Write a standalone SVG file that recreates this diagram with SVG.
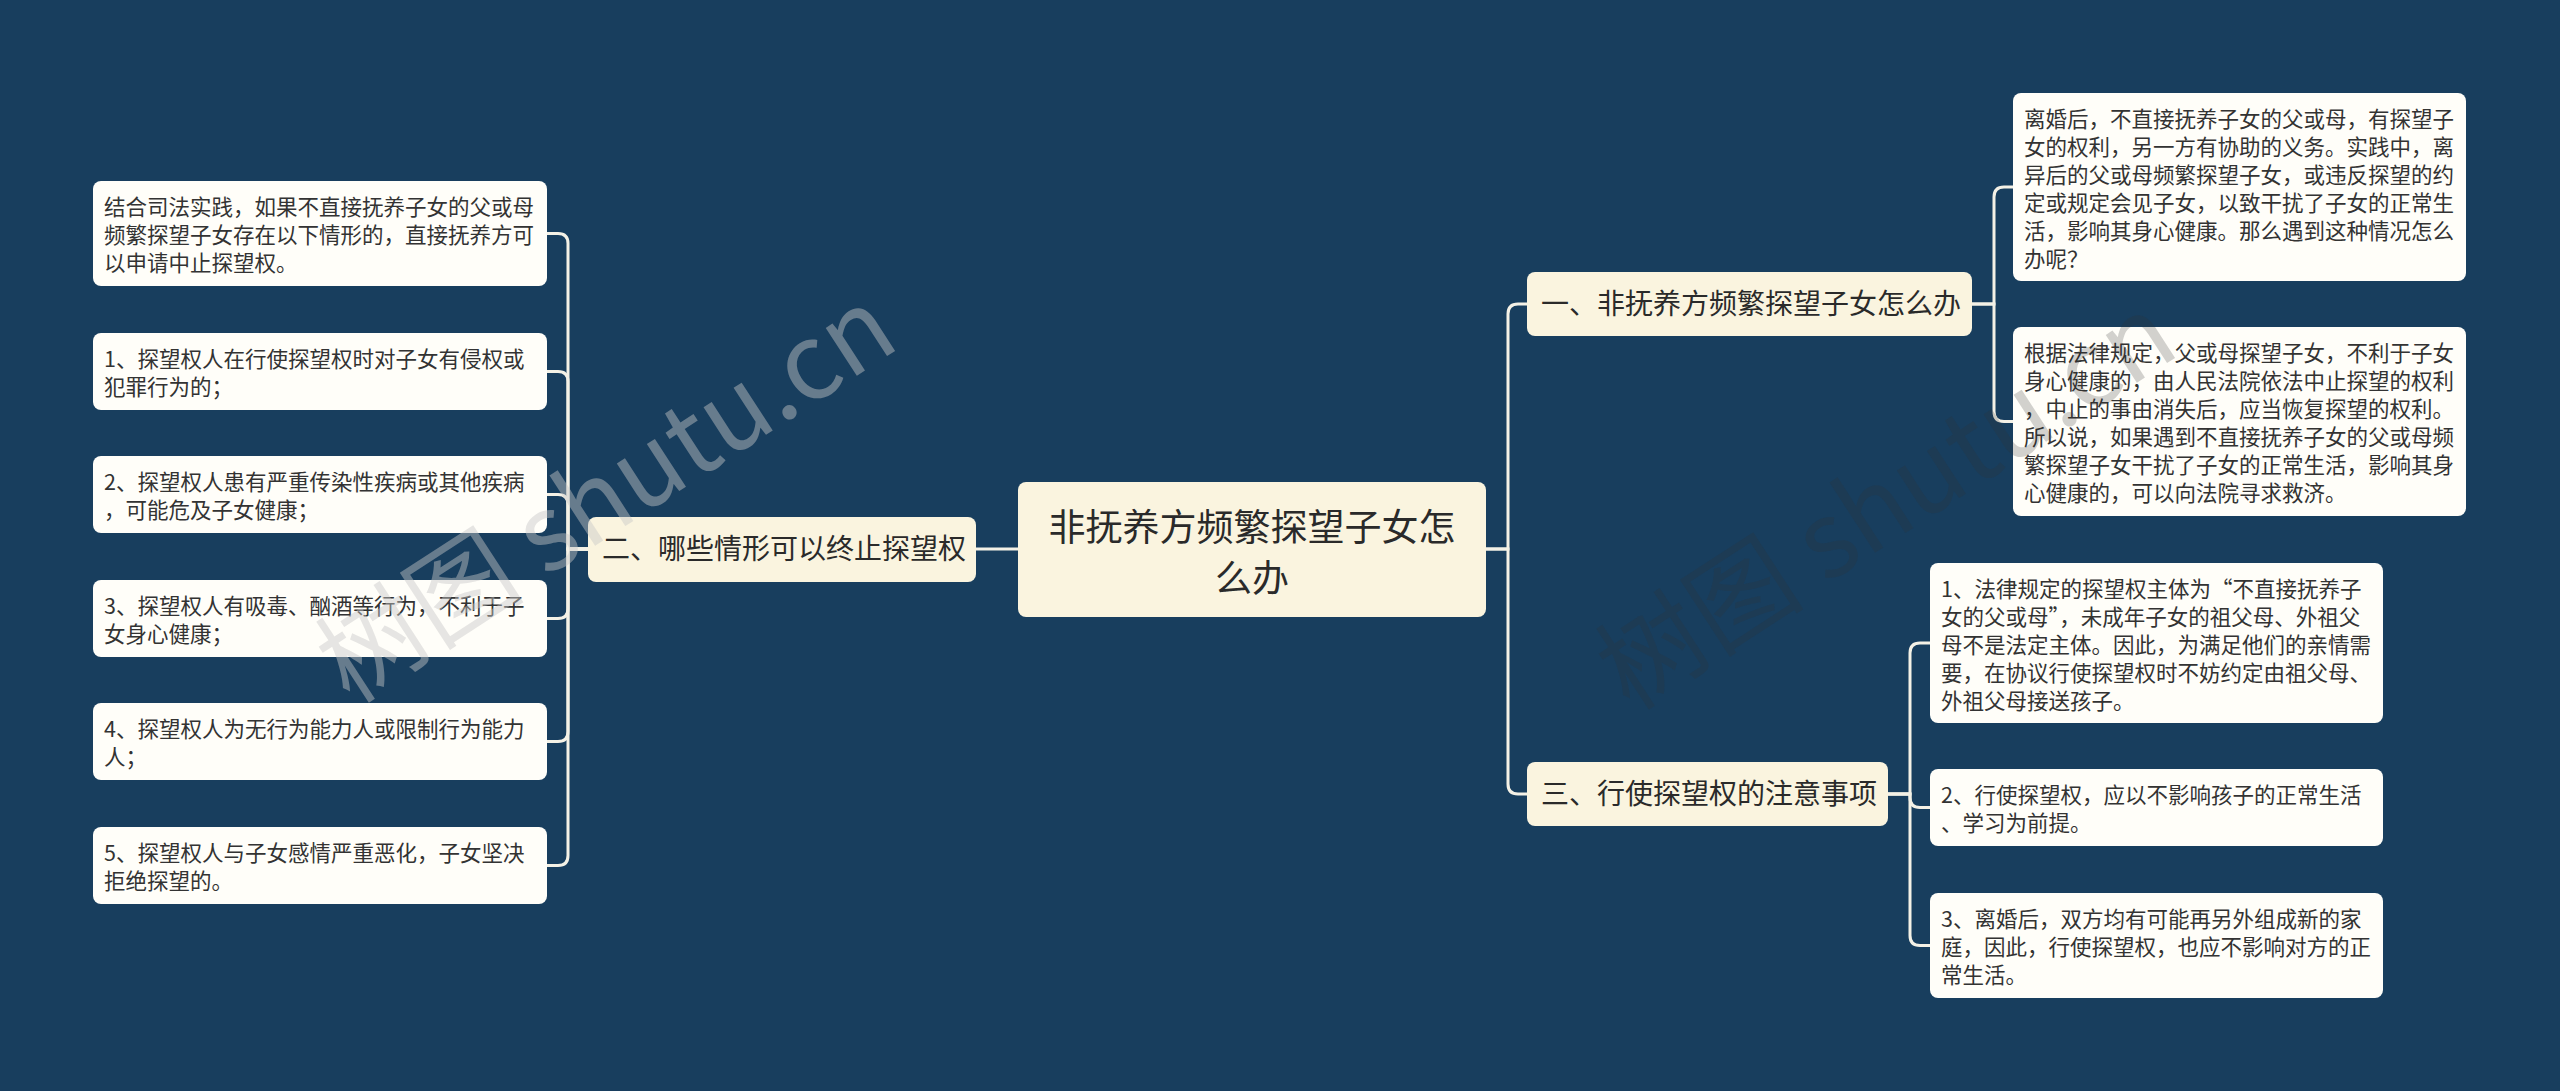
<svg xmlns="http://www.w3.org/2000/svg" width="2560" height="1091" viewBox="0 0 2560 1091">
<style>
.bg{fill:#183e5e}
.leaf{fill:#fffef9}
.mid{fill:#faf4df}
.root{fill:#faf4df}
.lt{font-family:"Noto Sans CJK SC","Noto Sans",sans-serif;font-size:21.5px;fill:#333333}
.mt{font-family:"Noto Sans CJK SC","Noto Sans",sans-serif;font-size:28px;fill:#2a2a2a}
.rt{font-family:"Noto Sans CJK SC","Noto Sans",sans-serif;font-size:37px;fill:#2a2a2a}
.conn path{fill:none;stroke:#f4f1e6;stroke-width:3}
.wm{font-family:"Noto Sans CJK SC","Noto Sans",sans-serif;font-size:105px;font-weight:normal}
</style>
<rect class="bg" x="0" y="0" width="2560" height="1091"/>

<g id="connectors" class="conn">
  <path d="M1018 549 H976"/>
  <path d="M1486 549 H1508 V314 Q1508 304 1518 304 H1527"/>
  <path d="M1486 549 H1508 V784 Q1508 794 1518 794 H1527"/>
  <path d="M588 549 H568 V243.5 Q568 233.5 558 233.5 H547"/>
  <path d="M588 549 H568 V381.5 Q568 371.5 558 371.5 H547"/>
  <path d="M588 549 H568 V504.5 Q568 494.5 558 494.5 H547"/>
  <path d="M588 549 H568 V608.5 Q568 618.5 558 618.5 H547"/>
  <path d="M588 549 H568 V731.5 Q568 741.5 558 741.5 H547"/>
  <path d="M588 549 H568 V855.5 Q568 865.5 558 865.5 H547"/>
  <path d="M1972 304 H1994 V197 Q1994 187 2004 187 H2013"/>
  <path d="M1972 304 H1994 V411.5 Q1994 421.5 2004 421.5 H2013"/>
  <path d="M1888 794 H1910 V653 Q1910 643 1920 643 H1930"/>
  <path d="M1888 794 H1910 V797.5 Q1910 807.5 1920 807.5 H1930"/>
  <path d="M1888 794 H1910 V935.5 Q1910 945.5 1920 945.5 H1930"/>
</g>

<g id="root">
  <rect class="root" x="1018" y="482" width="468" height="135" rx="8"/>
  <text class="rt" x="1252" y="541" text-anchor="middle">非抚养方频繁探望子女怎</text>
  <text class="rt" x="1252" y="592" text-anchor="middle">么办</text>
</g>

<g id="n2">
  <rect class="mid" x="588" y="517" width="388" height="65" rx="8"/>
  <text class="mt" x="602" y="559">二、哪些情形可以终止探望权</text>
</g>
<g id="n1">
  <rect class="mid" x="1527" y="272" width="445" height="64" rx="8"/>
  <text class="mt" x="1541" y="314">一、非抚养方频繁探望子女怎么办</text>
</g>
<g id="n3">
  <rect class="mid" x="1527" y="762" width="361" height="64" rx="8"/>
  <text class="mt" x="1541" y="804">三、行使探望权的注意事项</text>
</g>

<g id="l0">
  <rect class="leaf" x="93" y="181" width="454" height="105" rx="8"/>
  <text class="lt" x="104" y="215">结合司法实践，如果不直接抚养子女的父或母</text>
  <text class="lt" x="104" y="243">频繁探望子女存在以下情形的，直接抚养方可</text>
  <text class="lt" x="104" y="271">以申请中止探望权。</text>
</g>
<g id="l1">
  <rect class="leaf" x="93" y="333" width="454" height="77" rx="8"/>
  <text class="lt" x="104" y="367">1、探望权人在行使探望权时对子女有侵权或</text>
  <text class="lt" x="104" y="395">犯罪行为的；</text>
</g>
<g id="l2">
  <rect class="leaf" x="93" y="456" width="454" height="77" rx="8"/>
  <text class="lt" x="104" y="490">2、探望权人患有严重传染性疾病或其他疾病</text>
  <text class="lt" x="104" y="518">，可能危及子女健康；</text>
</g>
<g id="l3">
  <rect class="leaf" x="93" y="580" width="454" height="77" rx="8"/>
  <text class="lt" x="104" y="614">3、探望权人有吸毒、酗酒等行为，不利于子</text>
  <text class="lt" x="104" y="642">女身心健康；</text>
</g>
<g id="l4">
  <rect class="leaf" x="93" y="703" width="454" height="77" rx="8"/>
  <text class="lt" x="104" y="737">4、探望权人为无行为能力人或限制行为能力</text>
  <text class="lt" x="104" y="765">人；</text>
</g>
<g id="l5">
  <rect class="leaf" x="93" y="827" width="454" height="77" rx="8"/>
  <text class="lt" x="104" y="861">5、探望权人与子女感情严重恶化，子女坚决</text>
  <text class="lt" x="104" y="889">拒绝探望的。</text>
</g>

<g id="ra">
  <rect class="leaf" x="2013" y="93" width="453" height="188" rx="8"/>
  <text class="lt" x="2024" y="127">离婚后，不直接抚养子女的父或母，有探望子</text>
  <text class="lt" x="2024" y="155">女的权利，另一方有协助的义务。实践中，离</text>
  <text class="lt" x="2024" y="183">异后的父或母频繁探望子女，或违反探望的约</text>
  <text class="lt" x="2024" y="211">定或规定会见子女，以致干扰了子女的正常生</text>
  <text class="lt" x="2024" y="239">活，影响其身心健康。那么遇到这种情况怎么</text>
  <text class="lt" x="2024" y="267">办呢？</text>
</g>
<g id="rb">
  <rect class="leaf" x="2013" y="327" width="453" height="189" rx="8"/>
  <text class="lt" x="2024" y="361">根据法律规定，父或母探望子女，不利于子女</text>
  <text class="lt" x="2024" y="389">身心健康的，由人民法院依法中止探望的权利</text>
  <text class="lt" x="2024" y="417">，中止的事由消失后，应当恢复探望的权利。</text>
  <text class="lt" x="2024" y="445">所以说，如果遇到不直接抚养子女的父或母频</text>
  <text class="lt" x="2024" y="473">繁探望子女干扰了子女的正常生活，影响其身</text>
  <text class="lt" x="2024" y="501">心健康的，可以向法院寻求救济。</text>
</g>
<g id="rc">
  <rect class="leaf" x="1930" y="563" width="453" height="160" rx="8"/>
  <text class="lt" x="1941" y="597">1、法律规定的探望权主体为“不直接抚养子</text>
  <text class="lt" x="1941" y="625">女的父或母”，未成年子女的祖父母、外祖父</text>
  <text class="lt" x="1941" y="653">母不是法定主体。因此，为满足他们的亲情需</text>
  <text class="lt" x="1941" y="681">要，在协议行使探望权时不妨约定由祖父母、</text>
  <text class="lt" x="1941" y="709">外祖父母接送孩子。</text>
</g>
<g id="rd">
  <rect class="leaf" x="1930" y="769" width="453" height="77" rx="8"/>
  <text class="lt" x="1941" y="803">2、行使探望权，应以不影响孩子的正常生活</text>
  <text class="lt" x="1941" y="831">、学习为前提。</text>
</g>
<g id="re">
  <rect class="leaf" x="1930" y="893" width="453" height="105" rx="8"/>
  <text class="lt" x="1941" y="927">3、离婚后，双方均有可能再另外组成新的家</text>
  <text class="lt" x="1941" y="955">庭，因此，行使探望权，也应不影响对方的正</text>
  <text class="lt" x="1941" y="983">常生活。</text>
</g>

<g id="watermarks">
  <text class="wm" transform="translate(350,705) rotate(-33)" fill="#c8c8c8" fill-opacity="0.45">树图 shutu.cn</text>
  <text class="wm" transform="translate(1630,712) rotate(-33)" fill="#333333" fill-opacity="0.22">树图 shutu.cn</text>
</g>
</svg>
